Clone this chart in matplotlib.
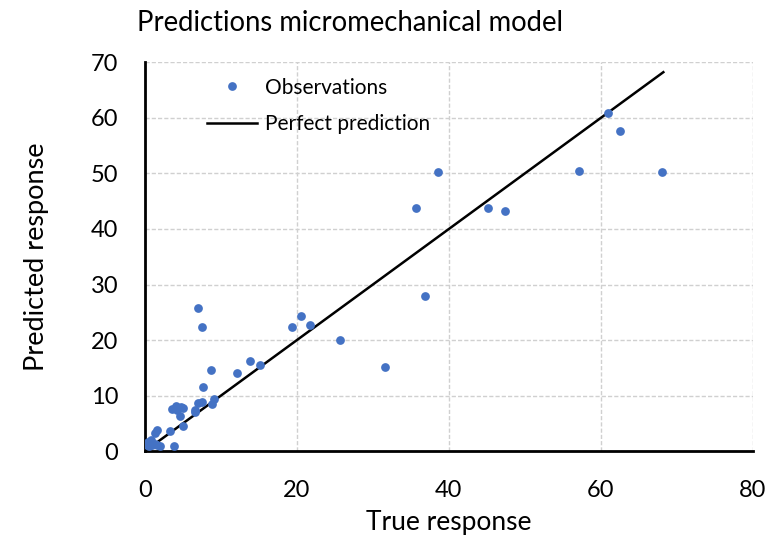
import matplotlib
matplotlib.use("Agg")
import matplotlib.pyplot as plt

# observations
true_resp = [60.9, 62.5, 57.1, 68.0, 38.5, 35.7, 45.1, 47.4, 36.8, 25.7,
             20.6, 21.7, 19.3, 31.6, 13.9, 15.1, 7.0, 7.5, 8.7, 12.1,
             7.7, 7.0, 7.5, 9.1, 8.9, 4.8, 6.6, 6.6, 3.6, 4.1,
             5.0, 4.2, 4.7, 5.0, 3.3, 1.6, 1.4, 3.8, 0.4, 0.7,
             1.0, 0.5, 1.3, 1.6, 0.8, 0.3, 2.0]
pred_resp = [60.9, 57.6, 50.5, 50.2, 50.2, 43.7, 43.7, 43.2, 27.9, 20.0,
             24.4, 22.8, 22.4, 15.1, 16.3, 15.6, 25.8, 22.4, 14.7, 14.0,
             11.5, 8.7, 8.9, 9.4, 8.6, 7.9, 7.4, 7.0, 7.6, 8.2,
             7.8, 7.4, 6.3, 4.5, 3.6, 3.8, 3.3, 1.0, 1.7, 1.4,
             1.1, 0.9, 1.3, 1.2, 2.0, 1.2, 1.0]

perfect_x = [1.0, 68.2]
perfect_y = [1.0, 68.2]

x_ticks = [0, 20, 40, 60, 80]
y_ticks = [0, 10, 20, 30, 40, 50, 60, 70]

plt.rcParams['font.family'] = ['Lato', 'DejaVu Sans']

fig = plt.figure(figsize=(7.7, 5.36), dpi=100)
ax = fig.add_axes([0.188, 0.158, 0.79, 0.726])

ax.plot(true_resp, pred_resp, 'o', color='#4472C4', markersize=6.3,
        markeredgewidth=0, label='Observations', zorder=3)
ax.plot(perfect_x, perfect_y, color='black', linewidth=1.8,
        label='Perfect prediction', zorder=2)

ax.set_xlim(0, 80)
ax.set_ylim(0, 70)
ax.set_xticks(x_ticks)
ax.set_yticks(y_ticks)
ax.tick_params(axis='y', length=0, labelsize=17, pad=19)
ax.tick_params(axis='x', length=0, labelsize=17, pad=21)

# dashed light grid in both directions, behind the marks
ax.grid(True, color='#d0d0d0', linestyle=(0, (3, 1.5)), linewidth=1)
ax.set_axisbelow(True)

for s in ['top', 'right']:
    ax.spines[s].set_visible(False)
for s in ['left', 'bottom']:
    ax.spines[s].set_linewidth(2)
    ax.spines[s].set_color('black')

ax.set_xlabel('True response', fontsize=19, labelpad=6)
ax.set_ylabel('Predicted response', fontsize=19.5, labelpad=30)
fig.text(0.178, 0.958, 'Predictions micromechanical model', fontsize=19.8,
         va='center', ha='left')

ax.legend(loc='upper left', bbox_to_anchor=(0.089, 0.982), frameon=False,
          fontsize=15, handlelength=2.4, handletextpad=0.35, labelspacing=0.8,
          borderaxespad=0)

plt.savefig('out.png', dpi=100)
